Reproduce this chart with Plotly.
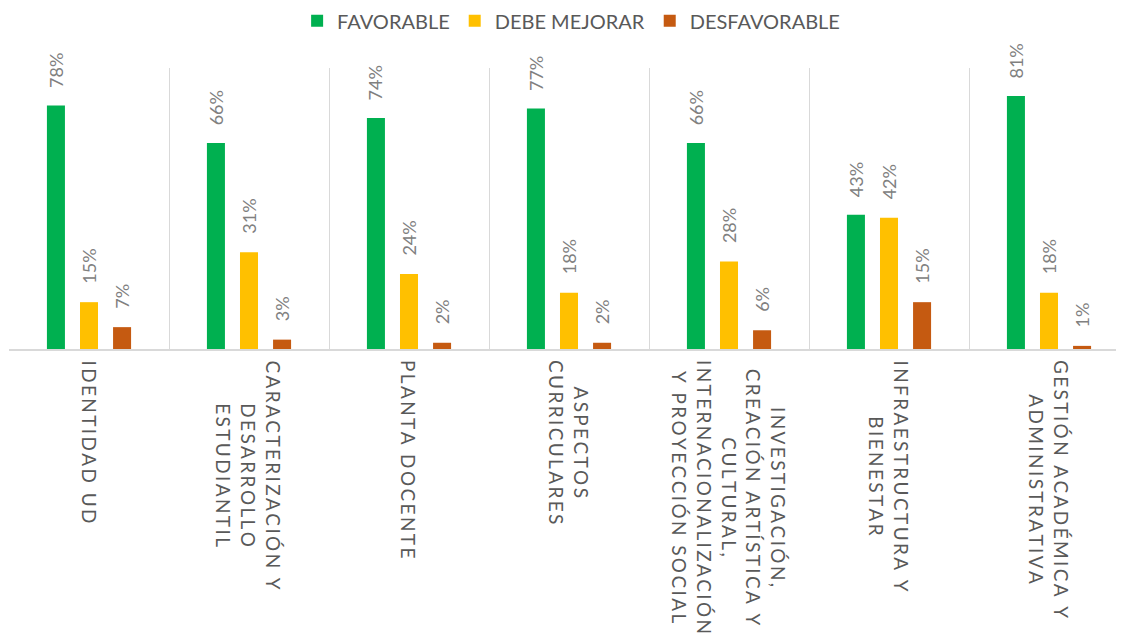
import plotly.graph_objects as go

categories = [
    "IDENTIDAD UD",
    "CARACTERIZACIÓN Y<br>DESARROLLO<br>ESTUDIANTIL",
    "PLANTA DOCENTE",
    "ASPECTOS<br>CURRICULARES",
    "INVESTIGACIÓN,<br>CREACIÓN ARTÍSTICA Y<br>CULTURAL,<br>INTERNACIONALIZACIÓN<br>Y PROYECCIÓN SOCIAL",
    "INFRAESTRUCTURA Y<br>BIENESTAR",
    "GESTIÓN ACADÉMICA Y<br>ADMINISTRATIVA",
]
favorable = [0.78, 0.66, 0.74, 0.77, 0.66, 0.43, 0.81]
debe_mejorar = [0.15, 0.31, 0.24, 0.18, 0.28, 0.42, 0.18]
desfavorable = [0.07, 0.03, 0.02, 0.02, 0.06, 0.15, 0.01]

series = [
    ("FAVORABLE", favorable, "#00b050"),
    ("DEBE MEJORAR", debe_mejorar, "#ffc000"),
    ("DESFAVORABLE", desfavorable, "#c55a11"),
]

FONT = "Lato, 'Open Sans', sans-serif"
W, H = 1124, 639
# page body adds 8px offset, margins compensate for it
M = dict(l=1, r=3, t=60, b=298, autoexpand=False)
BARGAP = 0.38
GROUPGAP = 0.455


def spaced(label):
    # Excel-style letter spacing on the category labels
    return "<br>".join("\u2009".join(line) for line in label.split("<br>"))


keys = [c.replace("<br>", " ") for c in categories]

fig = go.Figure()
for name, vals, color in series:
    fig.add_trace(go.Bar(
        x=keys, y=vals, name=name,
        marker=dict(color=color, line=dict(width=0)),
        hoverinfo="x+y+name",
    ))

# rotated value labels above each bar
slot = (W - M["l"] - M["r"]) / len(keys) * (1 - BARGAP) / len(series)
annotations = []
for i, (name, vals, color) in enumerate(series):
    for k, v in zip(keys, vals):
        annotations.append(dict(
            x=k, y=v, xref="x", yref="y",
            text=f"{round(v * 100)}%", textangle=-90,
            showarrow=False, xanchor="center", yanchor="bottom",
            xshift=(i - 1) * slot, yshift=16,
            font=dict(family=FONT, size=18, color="#808080"),
        ))

# category labels, rotated, centred lines
for k, c in zip(keys, categories):
    annotations.append(dict(
        x=k, y=0, xref="x", yref="y",
        text=spaced(c), textangle=90, align="center",
        showarrow=False, xanchor="center", yanchor="top", yshift=-9,
        font=dict(family=FONT, size=19, color="#595959"),
    ))

fig.update_layout(
    width=W, height=H,
    margin=M,
    paper_bgcolor="white",
    plot_bgcolor="white",
    barmode="group",
    bargap=BARGAP,
    bargroupgap=GROUPGAP,
    font=dict(family=FONT, color="#595959"),
    showlegend=True,
    legend=dict(
        orientation="h",
        x=0.501, xref="container", xanchor="center",
        y=1.168, yref="paper", yanchor="middle",
        font=dict(family=FONT, size=20, color="#595959"),
        itemwidth=30,
    ),
    xaxis=dict(
        type="category",
        tickson="boundaries",
        showgrid=True, gridcolor="#d9d9d9", gridwidth=1,
        showline=True, linecolor="#d9d9d9", linewidth=1.5,
        showticklabels=False, ticks="",
    ),
    yaxis=dict(
        range=[0, 0.9],
        showgrid=False, zeroline=False,
        showticklabels=False, ticks="",
    ),
    annotations=annotations,
)

fig.write_html("out.html")
